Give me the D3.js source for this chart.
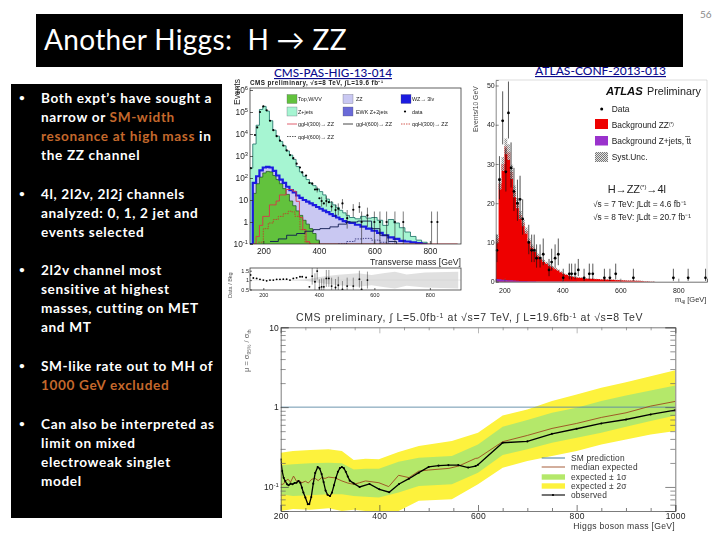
<!DOCTYPE html>
<html><head><meta charset="utf-8">
<script src="https://cdnjs.cloudflare.com/ajax/libs/d3/7.8.5/d3.min.js"></script>
<style>html,body{margin:0;padding:0;background:#fff}svg{display:block}</style></head>
<body><svg id="s" width="720" height="540"></svg>
<script>
// ---------- slide text ----------
const slideTitle = "Another Higgs:  H \u2192 ZZ";
const bulletLines = [
 [["Both expt\u2019s have sought a",0]],
 [["narrow or ",0],["SM-width",1]],
 [["resonance at high mass",1],[" in",0]],
 [["the ZZ channel",0]],
 [["4l, 2l2v, 2l2j channels",0]],
 [["analyzed: 0, 1, 2 jet and",0]],
 [["events selected",0]],
 [["2l2v channel most",0]],
 [["sensitive at highest",0]],
 [["masses, cutting on MET",0]],
 [["and MT",0]],
 [["SM-like rate out to MH of",0]],
 [["1000 GeV excluded",1]],
 [["Can also be interpreted as",0]],
 [["limit on mixed",0]],
 [["electroweak singlet",0]],
 [["model",0]]];
const bulletStarts = [0,4,7,11,13];
const lineBaselines = [103,122,141,160,199,218,237,275,294,313,332,371,390,429,448,467,486];

// ---------- CMS transverse mass ----------
const cmsEdges = [150,162,174,186,198,210,222,234,246,258,270,282,294,306,318,330,342,354,366,378,390,402,414,426,438,450,462,474,486,498,510,530,550,570,590,610,630,650,670,690,710,730,750,770,790];
const cmsZjetsTotal = [280,3500,25000,130000,180000,110000,40000,15000,8000,4600,2900,1700,1100,700,330,190,120,85,60,45,32,24,17,11,8,6,4.5,3.4,2.6,2,1.6,1.4,1.8,1.5,1.6,1.2,0.7,1.3,0.9,0.55,0.35,0.22,0.15,0.12,0.1];
const cmsDiboson = [0.09,60,120,220,300,320,300,210,130,85,60,40,28,22,16,12.5,10,8.5,7,5.8,4.8,4,3.3,2.8,2.3,1.9,1.6,1.35,1.1,1,0.9,0.75,0.62,0.5,0.4,0.32,0.25,0.2,0.17,0.14,0.13,0.12,0.11,0.1,0.09];
const cmsTop = [0.05,20,55,110,170,200,190,130,85,55,33,18,9,5.5,3.2,2,1.2,0.8,0.5,0.3,0.15,0.09,0.05,0.05,0.05,0.05,0.05,0.05,0.05,0.05,0.05,0.05,0.05,0.05,0.05,0.05,0.05,0.05,0.05,0.05,0.05,0.05,0.05,0.05,0.05];
const sigGG300X = [162,174,186,198,210,222,234,246,258,270,282,294,306,318,330,342,354,366,400,600,900];
const sigGG300Y = [0.1,0.22,0.7,1.8,1.8,6,6,9,17,17,30,30,25,8.7,1.6,0.45,0.13,0.1,0.1,0.1,0.1];
const sigQQ300X = [182,200,218,236,254,272,290,302,314,332,350,370];
const sigQQ300Y = [0.12,0.5,0.9,1.3,1.8,2.4,3.1,2.9,1.8,0.45,0.12,0.09];
const sigGG600X = [224,254,284,320,350,380,404,440,470,500,540,590,620,650,680];
const sigGG600Y = [0.13,0.17,0.25,0.3,0.38,0.45,0.5,0.6,0.8,1,1.1,0.5,0.25,0.13,0.09];
const sigQQ600X = [470,500,530,560,590,620,650,670];
const sigQQ600Y = [0.1,0.13,0.17,0.18,0.15,0.12,0.1,0.09];
const cmsDataX = [155,170,178,188,200,212,224,236,248,260,272,284,296,308,320,332,340,354,366,376,386,394,402,410,418,427,436,446,460,470,485,502,524,546,554,575,600,620,644,674,704,806,827];
const cmsDataY = [280,9000,20000,100000,180000,120000,40000,15000,8000,5000,3000,1800,1100,800,450,300,180,130,60,55,30,30,12,9,7,9,8,5,3.5,4,7,1.5,3.6,4.8,1,2,1,1,1,1,1,1,1];
const cmsErrX = [394,410,427,446,460,470,485,502,524,546,554,575,600,620,644,674,704,806,827];
const cmsErrLow = [22,5,5,3,1.7,2,4,0.5,1.7,2.6,0.09,0.6,0.09,0.09,0.09,0.09,0.09,0.09,0.09];
const cmsErrHigh = [40,14,15,9,6,7,11,3.5,6.5,8,3,4.5,3,3,3,3,3,3,3];
const ratioX = [154,164,176,188,200,212,224,236,248,260,272,284,296,308,320,332,340,354,366,376,386,394,402,410,418,427,436,446,460,470,485,502,524,546,554,575];
const ratioY = [1.27,1.11,1.09,1.04,1,0.96,1,1,1.04,1.04,1.05,1.05,1,1.09,1.12,1.18,1.18,1.14,0.64,1.21,0.91,1.48,0.59,0.64,0.64,1.09,1.09,0.68,0.61,0.73,0.5,0.68,0.68,1.05,0.5,1];
const ratioBandX = [300,350,386,422,470,542,590,638,674,716,782,902];
const ratioBandHi = [1.01,1.03,1.12,1.2,1.28,1.36,1.27,1.38,1.45,1.3,1.4,1.45];
const ratioBandLo = [0.99,0.97,0.88,0.8,0.72,0.64,0.73,0.62,0.55,0.7,0.6,0.55];
const cmsYTicks = [0.1,1,10,100,1000,10000,100000,1000000];
const cmsYLabels = [["10","-1"],["1",""],["10",""],["10","2"],["10","3"],["10","4"],["10","5"],["10","6"]];
const xTicksMT = [200,400,600,800];
const ratioTicks = [0.5,1,1.5];

// ---------- ATLAS m4l ----------
const atlasEdges = [170,180,190,200,210,220,230,240,250,260,270,280,290,300,310,320,330,340,350,360,370,380,390,400,410,420,430,440,450,460,470,480,490,500,510,520,530,540,550,560,570,580,590,600,610,620,630,640,650,660,670,680,690,700,710,720];
const atlasZZ = [11,25,30,34.5,33,28,23,20,17,15,13,10.5,9,8,6.8,6,5.3,4.8,4.2,3.8,3.4,3,2.5,2,1.8,1.5,1.35,1.2,1.1,1,0.88,0.82,0.78,0.74,0.7,0.66,0.62,0.6,0.56,0.52,0.48,0.44,0.42,0.4,0.36,0.32,0.3,0.28,0.26,0.22,0.18,0.14,0.1,0.07,0.04,0.02];
const atlasZjets = [0.7,0.6,0.5,0.45,0.4,0.35,0.3,0.25,0.2,0.18,0.15,0.12,0.1,0.1,0.08,0.08,0.06,0.06,0.05,0.05,0.04,0.04,0.03,0.03,0.02,0.02,0.02,0.02,0.01,0.01,0.01,0.01,0.01,0.01,0.01,0.01,0.01,0.01,0.01,0.01,0.01,0.01,0.01,0.01,0.01,0.01,0.01,0.01,0.01,0.01,0.01,0.01,0.01,0.01,0.01,0.01];
const atlasSyst = [1,1.5,1.8,2,2,1.8,1.5,1.3,1,0.9,0.8,0.6,0.5,0.45,0.4,0.35,0.3,0.3,0.25,0.2,0.2,0.2,0.15,0.12,0.1,0.1,0.1,0.1,0.1,0.05,0.05,0.05,0.05,0.05,0.05,0.05,0.05,0.05,0.05,0.05,0.05,0.05,0.05,0.05,0.05,0.05,0.05,0.05,0.05,0.05,0.05,0.05,0.05,0.05,0.05,0.05];
const atlasDataX = [174,183,194,205,214,223,233,245,254,263,284,294,303,311,323,334,354,363,375,386,403,424,432,444,455,475,493,505,545,564,584,645,783,834,894];
const atlasDataY = [8,26,41,28,43,29,23,20,21,16,10,8,8,6,6,7,3,5,6,7,1,2,2,2,3,1,2,2,1,1,2,1,1,1,1];
const atlasDataUp = [12,32,48.5,34,51,35.5,29,26,27,21,14.5,12,12,9.5,9.5,11,5.8,8.4,9.5,11,3.3,4.6,4.6,4.6,5.8,3.3,4.6,4.6,3.3,3.3,4.6,3.3,3.3,3.3,3.3];
const atlasDataDown = [5,21,35,23,36.5,24,18,15.5,16,12,7,5,5,3.6,3.6,4.2,1.4,2.8,3.6,4.2,0.2,0.6,0.6,0.6,1.4,0.2,0.6,0.6,0.2,0.2,0.6,0.2,0.2,0.2,0.2];
const atlasXTicks = [200,400,600,800];
const atlasYTicks = [0,10,20,30,40,50];

// ---------- CMS mu limit ----------
const limMass = [200,225,260,297,324,348,372,399,439,480,547,600,650,700,750,800,850,900,950,1000];
const limUp2 = [.269,.282,.29,.296,.282,.218,.226,.222,.274,.325,.376,.478,.787,.935,1.19,1.44,1.745,2.05,2.44,2.90];
const limUp1 = [.187,.192,.198,.201,.198,.166,.169,.169,.207,.233,.244,.341,.568,.688,.849,.981,1.19,1.40,1.62,1.87];
const limDn1 = [.081,.077,.079,.081,.081,.077,.0755,.0736,.085,.103,.108,.151,.251,.296,.358,.414,.478,.568,.668,.787];
const limDn2 = [.05,.053,.052,.054,.05,.052,.05,.05,.049,.067,.07,.108,.174,.211,.244,.282,.341,.394,.455,.501];
const medMass = [200,205,210,215,220,226,232,238,243,250,256,263,270,276,283,290,297,310,324,336,348,360,372,399,419,439,460,480,500,541,561,595,600,650,700,750,800,850,900,950,1000];
const medVal = [.108,.108,.119,.125,.115,.137,.118,.12,.113,.118,.112,.125,.128,.12,.131,.128,.133,.13,.119,.112,.108,.113,.119,.113,.101,.14,.131,.158,.163,.171,.183,.228,.23,.369,.442,.541,.625,.743,.849,1.03,1.18];
const obsMass = [200,203,206,209,213,216,220,224,228,232,236,240,243,246,250,255,258,262,266,270,275,279,283,287,291,295,300,304,308,312,316,320,324,328,332,336,340,348,360,380,400,420,440,460,480,500,520,540,560,580,595,600,650,700,750,800,850,900,950,1000];
const obsVal = [.222,.158,.13,.119,.108,.105,.11,.108,.112,.113,.119,.112,.098,.085,.0736,.0607,.061,.075,.11,.15,.178,.17,.145,.115,.09,.08,.077,.085,.105,.13,.155,.172,.178,.172,.155,.135,.12,.111,.1,.109,.0935,.086,.109,.127,.151,.178,.185,.188,.188,.175,.183,.19,.358,.372,.464,.536,.625,.70,.81,.917];
const limXMajor = [200,400,600,800,1000];
const limXMinor = [250,300,350,450,500,550,650,700,750,850,900,950];
const limYMajor = [0.1,1,10];
const limYMinor = [0.06,0.07,0.08,0.09,0.2,0.3,0.4,0.5,0.6,0.7,0.8,0.9,2,3,4,5,6,7,8,9];

// ---------- page ----------
const svg = d3.select("#s");
const defs = svg.append("defs");
defs.append("filter").attr("id","soft").attr("x","-5%").attr("y","-5%").attr("width","110%").attr("height","110%")
  .append("feGaussianBlur").attr("stdDeviation",0.35);
const hp = defs.append("pattern").attr("id","hatch").attr("width",2).attr("height",2).attr("patternUnits","userSpaceOnUse");
hp.append("rect").attr("width",2).attr("height",2).attr("fill","#e4e4e4");
hp.append("rect").attr("width",1).attr("height",1).attr("fill","#777");
hp.append("rect").attr("x",1).attr("y",1).attr("width",1).attr("height",1).attr("fill","#777");
function clip(id,x,y,w,h){defs.append("clipPath").attr("id",id).append("rect").attr("x",x).attr("y",y).attr("width",w).attr("height",h);}
const SANS="'Liberation Sans',Arial,sans-serif", SLIDE="Lato,'Open Sans',sans-serif";

svg.append("text").attr("x",700).attr("y",18).attr("font-family",SLIDE).attr("font-size",10).attr("fill","#8a8a8a").text("56");
svg.append("rect").attr("x",36).attr("y",14).attr("width",647).attr("height",53).attr("fill","#000");
svg.append("text").attr("x",44).attr("y",50).attr("font-family",SLIDE).attr("font-size",28).attr("letter-spacing",0.35).attr("fill","#fff").attr("xml:space","preserve").text(slideTitle);
svg.append("rect").attr("x",11).attr("y",84).attr("width",211).attr("height",434).attr("fill","#000");
const tg = svg.append("g").attr("font-family",SLIDE).attr("font-weight",700).attr("font-size",13.6).attr("letter-spacing",0.65);
bulletLines.forEach((parts,i)=>{
  const t=tg.append("text").attr("x",41).attr("y",lineBaselines[i]).attr("xml:space","preserve");
  parts.forEach(p=>t.append("tspan").attr("fill",p[1]?"#c4682c":"#fff").text(p[0]));
});
bulletStarts.forEach(i=>tg.append("text").attr("x",19).attr("y",lineBaselines[i]-2).attr("font-size",10).attr("fill","#fff").text("\u2022"));

function link(x,y,txt,w){svg.append("text").attr("x",x).attr("y",y).attr("font-family",SLIDE).attr("font-size",11.5).attr("font-weight",500).attr("fill","#0a0a8c").attr("text-decoration","underline").attr("textLength",w).attr("lengthAdjust","spacingAndGlyphs").text(txt);}
link(274,77,"CMS-PAS-HIG-13-014",118);
link(535,75,"ATLAS-CONF-2013-013",131);

function styleAxis(g,col){g.selectAll("path,line").attr("stroke",col||"#222").attr("stroke-width",0.7);g.selectAll("text").attr("font-family",SANS).attr("fill","#222");}
function sup(sel,labels){sel.selectAll(".tick text").each(function(d,i){const t=d3.select(this);t.text(labels[i][0]);if(labels[i][1])t.append("tspan").attr("dy",-3).attr("font-size","70%").text(labels[i][1]);});}
function txt(g,x,y,s,fs,o={}){const t=g.append("text").attr("x",x).attr("y",y).attr("font-family",SANS).attr("font-size",fs).attr("fill",o.fill||"#222").attr("text-anchor",o.anchor||"start").text(s);if(o.weight)t.attr("font-weight",o.weight);if(o.style)t.attr("font-style",o.style);if(o.ls)t.attr("letter-spacing",o.ls);if(o.rot)t.attr("transform",`rotate(-90 ${x} ${y})`);return t;}

// ---------- CMS MT panel ----------
(function(){
 const g=svg.append("g").attr("filter","url(#soft)");
 const L=250,R=461,T=88,B=244;
 const x=d3.scaleLinear().domain([152,912]).range([L,R]);
 const y=d3.scaleLog().domain([0.1,1e6]).range([B,90]).clamp(true);
 clip("c1",L,T,R-L,B-T);
 const pl=g.append("g").attr("clip-path","url(#c1)");
 const edges=cmsEdges;
 const area=vals=>d3.area().curve(d3.curveStepAfter).x((d,i)=>x(edges[i])).y0(B).y1((d,i)=>y(vals[i]))(vals);
 const line=vals=>d3.line().curve(d3.curveStepAfter).x((d,i)=>x(edges[i])).y((d,i)=>y(vals[i]))(vals);
 pl.append("path").attr("d",area(cmsZjetsTotal)).attr("fill","#a6f5d2");
 pl.append("path").attr("d",line(cmsZjetsTotal)).attr("fill","none").attr("stroke","#2a7a70").attr("stroke-width",0.9);
 pl.append("path").attr("d",area(cmsDiboson)).attr("fill","#c9c8f2");
 pl.append("path").attr("d",area(cmsTop)).attr("fill","#62c23c");
 pl.append("path").attr("d",line(cmsTop)).attr("fill","none").attr("stroke","#14501a").attr("stroke-width",0.7);
 pl.append("path").attr("d",line(cmsDiboson)).attr("fill","none").attr("stroke","#1c1ce0").attr("stroke-width",2.2);
 const sl=(X,Y,c,w,da)=>pl.append("path").attr("d",d3.line().x((d,i)=>x(X[i])).y((d,i)=>y(Y[i])).curve(d3.curveStepAfter)(X)).attr("fill","none").attr("stroke",c).attr("stroke-width",w).attr("stroke-dasharray",da||null);
 sl(sigGG300X,sigGG300Y,"#d8354a",0.9);
 sl(sigQQ300X,sigQQ300Y,"#c8342a",0.8,"1.5,1");
 sl(sigGG600X,sigGG600Y,"#0e1a50",0.9);
 sl(sigQQ600X,sigQQ600Y,"#101060",0.7,"1.5,1.2");
 // data
 cmsErrX.forEach((m,i)=>pl.append("line").attr("x1",x(m)).attr("x2",x(m)).attr("y1",y(cmsErrLow[i])).attr("y2",y(cmsErrHigh[i])).attr("stroke","#222").attr("stroke-width",0.6));
 pl.selectAll("circle.d").data(cmsDataX).enter().append("circle").attr("cx",d=>x(d)).attr("cy",(d,i)=>y(cmsDataY[i])).attr("r",1.1).attr("fill","#000");
 // frame & axes
 g.append("rect").attr("x",L).attr("y",T).attr("width",R-L).attr("height",B-T).attr("fill","none").attr("stroke","#222").attr("stroke-width",0.7);
 const ax=g.append("g").attr("transform",`translate(0,${B})`).call(d3.axisBottom(x).tickValues(xTicksMT).tickSize(-3).tickPadding(4).tickFormat(d3.format("d")));
 ax.select(".domain").remove();styleAxis(ax);ax.selectAll("text").attr("font-size",8.3);
 const ay=g.append("g").attr("transform",`translate(${L},0)`).call(d3.axisLeft(y).tickValues(cmsYTicks).tickSize(-3).tickPadding(2));
 ay.select(".domain").remove();sup(ay,cmsYLabels);styleAxis(ay);ay.selectAll("text").attr("font-size",8.3);
 txt(g,461,264.5,"Transverse mass [GeV]",8.7,{anchor:"end"});
 txt(g,240,105,"Events",8.5,{rot:1});
 txt(g,250,85,"CMS preliminary, \u221As=8 TeV, \u222BL=19.6 fb\u207B\u00B9",6.3,{weight:700,ls:0.45});
 // legend
 const lg=g.append("g");
 const sw=(x0,yc,c)=>lg.append("rect").attr("x",x0).attr("y",yc-4.5).attr("width",10).attr("height",9).attr("fill",c).attr("stroke","#556").attr("stroke-width",0.3);
 sw(287,99,"#62c23c");txt(lg,298,101,"Top,W/VV",5.4);
 sw(343,99,"#c9c8f2");txt(lg,356,101,"ZZ",5.4);
 sw(401,99,"#1c1ce0");txt(lg,412,101,"WZ\u2192 3lv",5.4);
 sw(287,111.5,"#a6f5d2");txt(lg,298,113.5,"Z+jets",5.4);
 sw(343,111.5,"#6a6ad8");txt(lg,356,113.5,"EWK Z+2jets",5.4);
 lg.append("circle").attr("cx",405).attr("cy",111.5).attr("r",1.1).attr("fill","#000");txt(lg,412,113.5,"data",5.4);
 const ll=(x0,yc,c,da)=>lg.append("line").attr("x1",x0).attr("x2",x0+10).attr("y1",yc).attr("y2",yc).attr("stroke",c).attr("stroke-width",0.8).attr("stroke-dasharray",da||null);
 ll(287,124,"#d8354a");txt(lg,298,126,"ggH(300)\u2192 ZZ",5.4);
 ll(343,124,"#111");txt(lg,356,126,"ggH(600)\u2192 ZZ",5.4);
 ll(401,124,"#c8342a","1.5,1");txt(lg,412,126,"qqH(300)\u2192 ZZ",5.4);
 ll(287,136.5,"#333","1.5,1");txt(lg,298,138.5,"qqH(600)\u2192 ZZ",5.4);
 // ratio
 const T2=268,B2=290;
 const yr=d3.scaleLinear().domain([0.5,1.5]).range([289.5,270.7]);
 clip("c2",L,T2,R-L,B2-T2);
 const rp=g.append("g").attr("clip-path","url(#c2)");
 rp.append("path").attr("d",d3.area().x((d,i)=>x(ratioBandX[i])).y0((d,i)=>yr(ratioBandLo[i])).y1((d,i)=>yr(ratioBandHi[i]))(ratioBandX)).attr("fill","#e0e0e0");
 rp.append("line").attr("x1",L).attr("x2",R).attr("y1",yr(1)).attr("y2",yr(1)).attr("stroke","#ccc").attr("stroke-width",0.4);
 ratioX.forEach((m,i)=>{if(m>366)rp.append("line").attr("x1",x(m)).attr("x2",x(m)).attr("y1",yr(ratioY[i]-0.45)).attr("y2",yr(ratioY[i]+0.45)).attr("stroke","#333").attr("stroke-width",0.5);});
 rp.selectAll("circle.r").data(ratioX).enter().append("circle").attr("cx",d=>x(d)).attr("cy",(d,i)=>yr(ratioY[i])).attr("r",0.95).attr("fill","#000");
 g.append("rect").attr("x",L).attr("y",T2).attr("width",R-L).attr("height",B2-T2).attr("fill","none").attr("stroke","#222").attr("stroke-width",0.7);
 const rx=g.append("g").attr("transform",`translate(0,${B2})`).call(d3.axisBottom(x).tickValues(xTicksMT).tickSize(-2).tickPadding(3).tickFormat(d3.format("d")));
 rx.select(".domain").remove();styleAxis(rx);rx.selectAll("text").attr("font-size",5.5);
 const ry=g.append("g").attr("transform",`translate(${L},0)`).call(d3.axisLeft(yr).tickValues(ratioTicks).tickSize(-2).tickPadding(1).tickFormat(d3.format("~g")));
 ry.select(".domain").remove();styleAxis(ry);ry.selectAll("text").attr("font-size",5.5);
 txt(g,232,298,"Data / Bkg",5.5,{rot:1,fill:"#555"});
})();

// ---------- ATLAS panel ----------
(function(){
 const g=svg.append("g").attr("filter","url(#soft)");
 const L=495.7,R=707,T=80,B=281.7;
 const x=d3.scaleLinear().domain([170,899]).range([L,R]);
 const y=d3.scaleLinear().domain([0,51.4]).range([B,T]);
 clip("c3",L,T,R-L,B-T);
 const pl=g.append("g").attr("clip-path","url(#c3)");
 const e=atlasEdges;
 pl.append("path").attr("d",d3.area().curve(d3.curveStepAfter).x((d,i)=>x(e[i])).y0(B).y1((d,i)=>y(atlasZZ[i]))(e)).attr("fill","#ee0000");
 pl.append("path").attr("d",d3.area().curve(d3.curveStepAfter).x((d,i)=>x(e[i])).y0((d,i)=>y(atlasZZ[i]-atlasSyst[i])).y1((d,i)=>y(atlasZZ[i]+atlasSyst[i]))(e)).attr("fill","url(#hatch)").attr("opacity",0.8);
 pl.append("path").attr("d",d3.area().curve(d3.curveStepAfter).x((d,i)=>x(e[i])).y0(B).y1((d,i)=>y(atlasZjets[i]))(e)).attr("fill","#8a2bc8");
 atlasDataX.forEach((m,i)=>pl.append("line").attr("x1",x(m)).attr("x2",x(m)).attr("y1",y(atlasDataDown[i])).attr("y2",y(atlasDataUp[i])).attr("stroke","#111").attr("stroke-width",0.7));
 pl.selectAll("circle").data(atlasDataX).enter().append("circle").attr("cx",d=>x(d)).attr("cy",(d,i)=>y(atlasDataY[i])).attr("r",1.4).attr("fill","#000");
 g.append("path").attr("d",`M${L},${T}H${R}V${B}`).attr("fill","none").attr("stroke","#bbb").attr("stroke-width",0.5);
 const ax=g.append("g").attr("transform",`translate(0,${B})`).call(d3.axisBottom(x).tickValues(atlasXTicks).tickSize(-3).tickPadding(6).tickFormat(d3.format("d")));
 styleAxis(ax,"#555");ax.selectAll("text").attr("font-size",7);ax.select(".domain").attr("stroke","#333");
 const ay=g.append("g").attr("transform",`translate(${L},0)`).call(d3.axisLeft(y).tickValues(atlasYTicks).tickSize(-3).tickPadding(1).tickFormat(d3.format("d")));
 styleAxis(ay,"#555");ay.selectAll("text").attr("font-size",7);
 txt(g,478,132,"Events/10 GeV",6.8,{rot:1,fill:"#444"});
 const xl=txt(g,675,302,"m",7.5,{fill:"#333"});xl.append("tspan").attr("dy",1.5).attr("font-size",5).text("4l");xl.append("tspan").attr("dy",-1.5).text(" [GeV]");
 txt(g,606,95,"ATLAS",11.3,{weight:700,style:"italic",fill:"#111"});
 txt(g,647,95,"Preliminary",10.8,{fill:"#222"});
 g.append("circle").attr("cx",601.7).attr("cy",109).attr("r",1.5).attr("fill","#000");
 txt(g,611.7,112,"Data",8.4);
 g.append("rect").attr("x",595).attr("y",119).attr("width",13).attr("height",10).attr("fill","#ee0000");
 const bz=txt(g,611.7,128,"Background ZZ",8.4);bz.append("tspan").attr("dy",-2.5).attr("font-size",4.5).text("(*)");
 g.append("rect").attr("x",595).attr("y",136).attr("width",13).attr("height",9.5).attr("fill","#9a30cc");
 txt(g,611.7,144,"Background Z+jets, t\u0305t",8.4);
 g.append("rect").attr("x",595).attr("y",152).attr("width",13).attr("height",10).attr("fill","url(#hatch)");
 txt(g,611.7,159.5,"Syst.Unc.",8.4);
 const h=txt(g,607.7,193,"H\u2192ZZ",11);h.append("tspan").attr("dy",-4).attr("font-size",6).text("(*)");h.append("tspan").attr("dy",4).text("\u21924l");
 txt(g,593,207,"\u221As = 7 TeV: \u222BLdt = 4.6 fb\u207B\u00B9",8.3);
 txt(g,593,220,"\u221As = 8 TeV: \u222BLdt = 20.7 fb\u207B\u00B9",8.3);
})();

// ---------- CMS limit panel ----------
(function(){
 const g=svg.append("g").attr("filter","url(#soft)");
 const L=280.7,R=675.3,T=327.3,B=511;
 const x=d3.scaleLinear().domain([200,1000]).range([L,R]);
 const y=d3.scaleLog().domain([0.05,10]).range([B,T]).clamp(true);
 clip("c4",L,T,R-L,B-T);
 const pl=g.append("g").attr("clip-path","url(#c4)");
 const band=(a,b,c)=>pl.append("path").attr("d",d3.area().x((d,i)=>x(limMass[i])).y0((d,i)=>y(a[i])).y1((d,i)=>y(b[i]))(limMass)).attr("fill",c);
 band(limDn2,limUp2,"#fdf23c");
 band(limDn1,limUp1,"#b4e86a");
 pl.append("line").attr("x1",L).attr("x2",R).attr("y1",y(1)).attr("y2",y(1)).attr("stroke","#5b8aa5").attr("stroke-width",0.9);
 pl.append("path").attr("d",d3.line().x((d,i)=>x(medMass[i])).y((d,i)=>y(medVal[i]))(medMass)).attr("fill","none").attr("stroke","#9c4a20").attr("stroke-width",0.9);
 pl.append("path").attr("d",d3.line().x((d,i)=>x(obsMass[i])).y((d,i)=>y(obsVal[i]))(obsMass)).attr("fill","none").attr("stroke","#000").attr("stroke-width",1.3);
 pl.selectAll("circle").data(obsMass).enter().append("circle").attr("cx",d=>x(d)).attr("cy",(d,i)=>y(obsVal[i])).attr("r",1.05).attr("fill","#000");
 // axes
 const mk=(g2,col)=>{styleAxis(g2,col);g2.select(".domain").attr("stroke","#444");};
 const ab=g.append("g").attr("transform",`translate(0,${B})`).call(d3.axisBottom(x).tickValues(limXMajor).tickSize(-6).tickPadding(2).tickFormat(d3.format("d")));
 mk(ab,"#444");ab.selectAll("text").attr("font-size",8.5).attr("letter-spacing",0.3);
 const abm=g.append("g").attr("transform",`translate(0,${B})`).call(d3.axisBottom(x).tickValues(limXMinor).tickSize(-3).tickFormat(""));
 abm.select(".domain").remove();styleAxis(abm,"#444");
 const at=g.append("g").attr("transform",`translate(0,${T})`).call(d3.axisTop(x).tickValues(limXMajor).tickSize(-6).tickFormat(""));
 mk(at,"#999");
 const atm=g.append("g").attr("transform",`translate(0,${T})`).call(d3.axisTop(x).tickValues(limXMinor).tickSize(-3).tickFormat(""));
 atm.select(".domain").remove();styleAxis(atm,"#777");
 const al=g.append("g").attr("transform",`translate(${L},0)`).call(d3.axisLeft(y).tickValues(limYMajor).tickSize(-8).tickPadding(2));
 mk(al,"#444");sup(al,[["10","-1"],["1",""],["10",""]]);al.selectAll("text").attr("font-size",8.5);
 const alm=g.append("g").attr("transform",`translate(${L},0)`).call(d3.axisLeft(y).tickValues(limYMinor).tickSize(-5).tickFormat(""));
 alm.select(".domain").remove();styleAxis(alm,"#666");
 const ar=g.append("g").attr("transform",`translate(${R},0)`).call(d3.axisRight(y).tickValues(limYMajor).tickSize(-10).tickFormat(""));
 mk(ar,"#555");
 const arm=g.append("g").attr("transform",`translate(${R},0)`).call(d3.axisRight(y).tickValues(limYMinor).tickSize(-5).tickFormat(""));
 arm.select(".domain").remove();styleAxis(arm,"#666");
 const tt=txt(g,296,321,"CMS preliminary, \u222B L=5.0fb",10.5,{fill:"#333",ls:0.64});
 tt.append("tspan").attr("dy",-3).attr("font-size",7).text("-1");
 tt.append("tspan").attr("dy",3).text(" at \u221As=7 TeV, \u222B L=19.6fb");
 tt.append("tspan").attr("dy",-3).attr("font-size",7).text("-1");
 tt.append("tspan").attr("dy",3).text(" at \u221As=8 TeV");
 txt(g,675,529,"Higgs boson mass [GeV]",8.6,{anchor:"end",fill:"#333",ls:0.3});
 const yl=txt(g,249,372,"\u03BC = \u03C3",7.5,{rot:1,fill:"#666"});
 yl.append("tspan").attr("dy",2).attr("font-size",5).text("95%");
 yl.append("tspan").attr("dy",-2).text(" / \u03C3");
 yl.append("tspan").attr("dy",2).attr("font-size",5).text("th");
 // legend
 const lg=g.append("g");
 const ly=[458,467,477,486,495], ln=["SM prediction","median expected","expected \u00B1 1\u03C3","expected \u00B1 2\u03C3","observed"];
 ln.forEach((s,i)=>txt(lg,571,ly[i]+2.5,s,8.4,{fill:"#333",ls:0.2}));
 const l=(yy,c,w)=>lg.append("line").attr("x1",541.7).attr("x2",565).attr("y1",yy).attr("y2",yy).attr("stroke",c).attr("stroke-width",w);
 l(ly[0],"#2c6a90",0.9);l(ly[1],"#9c4a20",0.9);
 lg.append("rect").attr("x",541.7).attr("y",ly[2]-2.7).attr("width",23.3).attr("height",5.4).attr("fill","#b4e86a");
 lg.append("rect").attr("x",541.7).attr("y",ly[3]-2.7).attr("width",23.3).attr("height",5.4).attr("fill","#fdf23c");
 l(ly[4],"#000",1.1);
 lg.append("circle").attr("cx",553).attr("cy",ly[4]).attr("r",1.1).attr("fill","#000");
})();
</script></body></html>
